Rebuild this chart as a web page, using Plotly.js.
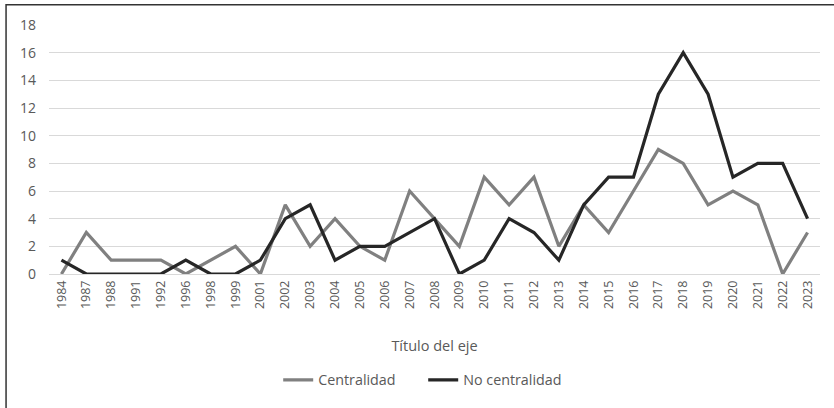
<!DOCTYPE html>
<html>
<head>
<meta charset="utf-8">
<script src="https://cdn.plot.ly/plotly-3.0.1.min.js"></script>
<style>html,body{margin:0;padding:0;background:#fff;}#chart{width:834px;height:408px;}</style>
</head>
<body>
<div id="chart"></div>
<script>
const years = ["1984","1987","1988","1991","1992","1996","1998","1999","2001","2002","2003","2004","2005","2006","2007","2008","2009","2010","2011","2012","2013","2014","2015","2016","2017","2018","2019","2020","2021","2022","2023"];
const centralidad = [0,3,1,1,1,0,1,2,0,5,2,4,2,1,6,4,2,7,5,7,2,5,3,6,9,8,5,6,5,0,3];
const noCentralidad = [1,0,0,0,0,1,0,0,1,4,5,1,2,2,3,4,0,1,4,3,1,5,7,7,13,16,13,7,8,8,4];
const yTicks = [0,2,4,6,8,10,12,14,16,18];
const xTitle = "Título del eje";

const font = {family: "Open Sans, sans-serif", color: "#595959"};
const traces = [
  {x: years, y: centralidad, name: "Centralidad", type: "scatter", mode: "lines",
   line: {color: "#808080", width: 3.2}},
  {x: years, y: noCentralidad, name: "No centralidad", type: "scatter", mode: "lines",
   line: {color: "#262626", width: 3.2}}
];
const layout = {
  width: 834, height: 408,
  margin: {l: 48.5, r: 13.5, t: 25, b: 132},
  paper_bgcolor: "#fff", plot_bgcolor: "#fff",
  font: Object.assign({size: 12}, font),
  showlegend: true,
  hovermode: false,
  xaxis: {
    type: "category", range: [-0.5, years.length - 0.5], tickangle: -90, showgrid: false, zeroline: false,
    showline: false, ticks: "", tickfont: Object.assign({size: 12.5}, font),
    ticklabelstandoff: 3,
    title: {text: xTitle, font: Object.assign({size: 14.5}, font), standoff: 32},
    automargin: false
  },
  yaxis: {
    range: [0, 18], tickvals: yTicks, showgrid: true, gridcolor: "#d9d9d9", gridwidth: 1,
    zeroline: true, zerolinecolor: "#d9d9d9", zerolinewidth: 1, showline: false, ticks: "",
    ticklabelstandoff: 12,
    tickfont: Object.assign({size: 14}, font), automargin: false
  },
  legend: {
    orientation: "h", x: (278 - 48.5) / 772, xanchor: "left", y: -0.426, yanchor: "middle",
    font: Object.assign({size: 14.3}, font), itemwidth: 30, traceorder: "normal",
    entrywidth: 100
  },
  shapes: [
    {type: "rect", xref: "paper", yref: "paper",
     x0: (5.5 - 48.5) / 772, x1: 1.2, y0: -1, y1: (276 - 4.5) / 251,
     line: {color: "#333", width: 1.5}, fillcolor: "rgba(0,0,0,0)", layer: "below"}
  ]
};
Plotly.newPlot("chart", traces, layout, {staticPlot: true, displayModeBar: false});
</script>
</body>
</html>
